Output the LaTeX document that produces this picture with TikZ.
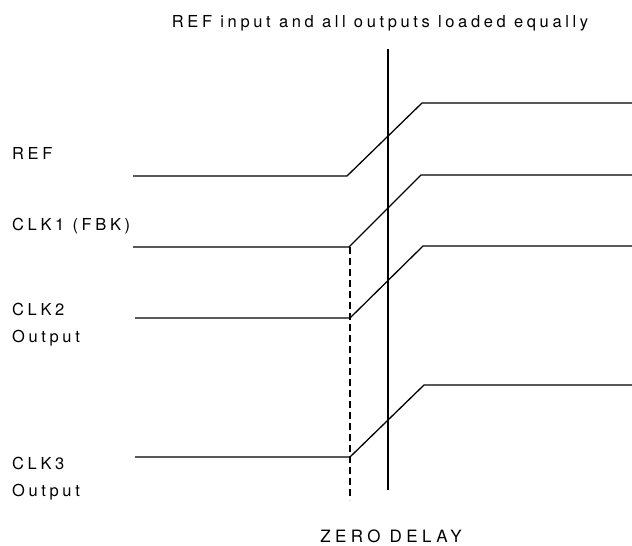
\documentclass[tikz,border=0pt]{standalone}
\usepackage{fontspec}
\setmainfont{TeX Gyre Heros}[LetterSpace=22]
\usetikzlibrary{positioning}

\begin{document}
\begin{tikzpicture}[x=1pt, y=-1pt,
        sig/.style={anchor=base west, align=left, inner sep=0pt, font=\fontsize{16.5}{26.5}\selectfont},
        wave/.style={line width=1.3pt, line join=miter},
        marker/.style={line width=1.7pt}
    ]
        \useasboundingbox (0,0) rectangle (632,546);

        % labels
        \node[sig, anchor=base] (title) at (380,27.3) {REF input and all outputs loaded equally};
        \node[sig] (ref) at (12,159) {REF};
        \node[sig] (clk1) at (12,230) {CLK1 (FBK)};
        \node[sig] (clk2) at (12,342) {CLK2\\Output};
        \node[sig] (clk3) at (12,496) {CLK3\\Output};
        \node[sig, anchor=base, font=\fontsize{17}{20}\selectfont\addfontfeatures{LetterSpace=26}] (delay) at (391,542.5) {ZERO DELAY};

        % waveforms
        \draw[wave] (133,176) -- (347,176) -- (422,103) -- (632,103);
        \draw[wave] (133,247) -- (349,247) -- (421,175) -- (632,175);
        \draw[wave] (135,318) -- (350,318) -- (423,246) -- (632,246);
        \draw[wave] (135,457) -- (350,457) -- (424,385) -- (632,385);

        % reference markers
        \draw[marker] (388,49) -- (388,490);
        \draw[wave, dash pattern=on 7pt off 4pt] (350,247) -- (350,500);
    \end{tikzpicture}
\end{document}
